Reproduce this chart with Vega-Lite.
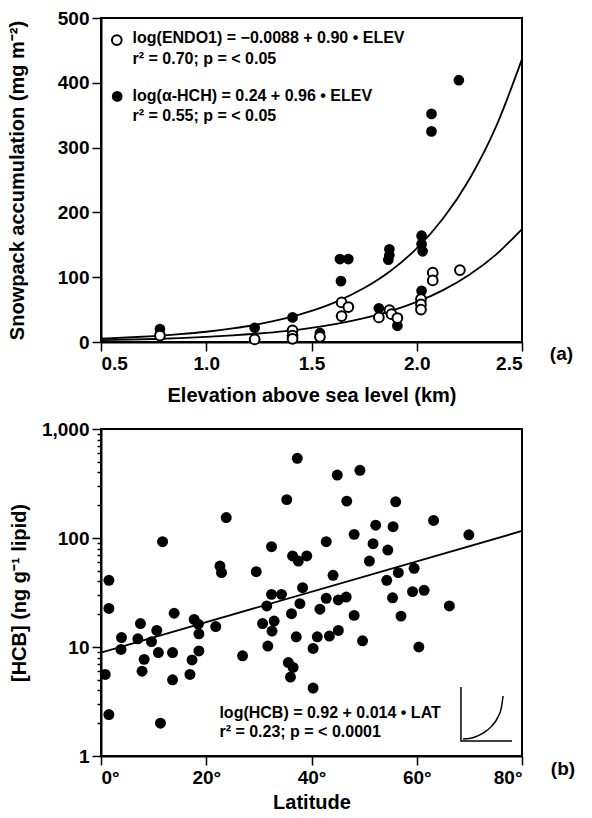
{
  "$schema": "https://vega.github.io/schema/vega-lite/v6.json",
  "padding": {"left": 6, "top": 8, "right": 2, "bottom": 0},
  "spacing": 13,
  "config": {
    "font": "Liberation Sans",
    "view": {"stroke": "black", "strokeWidth": 2},
    "axis": {
      "domainColor": "black", "domainWidth": 2,
      "tickColor": "black", "tickWidth": 1.5, "tickSize": 9,
      "labelFontSize": 19, "labelFontWeight": "bold", "labelColor": "black", "labelPadding": 3,
      "titleFontSize": 20, "titleFontWeight": "bold", "titleColor": "black",
      "grid": false
    },
    "title": {"fontSize": 19, "fontWeight": "bold", "color": "black"}
  },
  "datasets": {
    "a_pts": [
      {"x": 0.78, "y": 20, "g": "HCH"}, {"x": 1.23, "y": 22, "g": "HCH"}, {"x": 1.41, "y": 38, "g": "HCH"},
      {"x": 1.54, "y": 14, "g": "HCH"}, {"x": 1.635, "y": 128, "g": "HCH"}, {"x": 1.675, "y": 128, "g": "HCH"},
      {"x": 1.64, "y": 94, "g": "HCH"}, {"x": 1.82, "y": 52, "g": "HCH"}, {"x": 1.87, "y": 143, "g": "HCH"},
      {"x": 1.87, "y": 134, "g": "HCH"}, {"x": 1.865, "y": 127, "g": "HCH"}, {"x": 1.908, "y": 25, "g": "HCH"},
      {"x": 2.023, "y": 164, "g": "HCH"}, {"x": 2.023, "y": 151, "g": "HCH"}, {"x": 2.028, "y": 140, "g": "HCH"},
      {"x": 2.023, "y": 79, "g": "HCH"}, {"x": 2.07, "y": 352, "g": "HCH"}, {"x": 2.07, "y": 325, "g": "HCH"},
      {"x": 2.2, "y": 404, "g": "HCH"},
      {"x": 0.78, "y": 10, "g": "ENDO"}, {"x": 1.23, "y": 4, "g": "ENDO"}, {"x": 1.41, "y": 18, "g": "ENDO"},
      {"x": 1.41, "y": 10, "g": "ENDO"}, {"x": 1.41, "y": 5, "g": "ENDO"}, {"x": 1.54, "y": 8, "g": "ENDO"},
      {"x": 1.643, "y": 61, "g": "ENDO"}, {"x": 1.675, "y": 54, "g": "ENDO"}, {"x": 1.643, "y": 40, "g": "ENDO"},
      {"x": 1.82, "y": 38, "g": "ENDO"}, {"x": 1.87, "y": 49, "g": "ENDO"}, {"x": 1.88, "y": 43, "g": "ENDO"},
      {"x": 1.908, "y": 37, "g": "ENDO"}, {"x": 2.02, "y": 66, "g": "ENDO"}, {"x": 2.02, "y": 58, "g": "ENDO"},
      {"x": 2.02, "y": 50, "g": "ENDO"}, {"x": 2.076, "y": 107, "g": "ENDO"}, {"x": 2.076, "y": 95, "g": "ENDO"},
      {"x": 2.205, "y": 111, "g": "ENDO"}
    ],
    "a_fit": [
      {"x": 0.5, "y": 5.25, "g": "HCH"}, {"x": 0.625, "y": 6.92, "g": "HCH"}, {"x": 0.75, "y": 9.12, "g": "HCH"},
      {"x": 0.875, "y": 12.0, "g": "HCH"}, {"x": 1.0, "y": 15.8, "g": "HCH"}, {"x": 1.125, "y": 20.9, "g": "HCH"},
      {"x": 1.25, "y": 27.5, "g": "HCH"}, {"x": 1.375, "y": 36.3, "g": "HCH"}, {"x": 1.5, "y": 47.9, "g": "HCH"},
      {"x": 1.625, "y": 63.1, "g": "HCH"}, {"x": 1.75, "y": 83.2, "g": "HCH"}, {"x": 1.875, "y": 109.6, "g": "HCH"},
      {"x": 2.0, "y": 144.5, "g": "HCH"}, {"x": 2.125, "y": 190.5, "g": "HCH"}, {"x": 2.25, "y": 251.2, "g": "HCH"},
      {"x": 2.375, "y": 331.1, "g": "HCH"}, {"x": 2.5, "y": 436.5, "g": "HCH"},
      {"x": 0.5, "y": 2.76, "g": "ENDO"}, {"x": 0.625, "y": 3.58, "g": "ENDO"}, {"x": 0.75, "y": 4.64, "g": "ENDO"},
      {"x": 0.875, "y": 6.01, "g": "ENDO"}, {"x": 1.0, "y": 7.78, "g": "ENDO"}, {"x": 1.125, "y": 10.1, "g": "ENDO"},
      {"x": 1.25, "y": 13.1, "g": "ENDO"}, {"x": 1.375, "y": 16.9, "g": "ENDO"}, {"x": 1.5, "y": 21.9, "g": "ENDO"},
      {"x": 1.625, "y": 28.4, "g": "ENDO"}, {"x": 1.75, "y": 36.8, "g": "ENDO"}, {"x": 1.875, "y": 47.7, "g": "ENDO"},
      {"x": 2.0, "y": 61.8, "g": "ENDO"}, {"x": 2.125, "y": 80.1, "g": "ENDO"}, {"x": 2.25, "y": 103.8, "g": "ENDO"},
      {"x": 2.375, "y": 134.5, "g": "ENDO"}, {"x": 2.5, "y": 174.3, "g": "ENDO"}
    ],
    "a_key": [
      {"x": 0.575, "y": 466, "g": "ENDO"}, {"x": 0.577, "y": 379, "g": "HCH"}
    ],
    "a_txt": [
      {"x": 0.65, "y": 469, "t": "log(ENDO1) = −0.0088 + 0.90 • ELEV"},
      {"x": 0.65, "y": 436, "t": "r² = 0.70; p = < 0.05"},
      {"x": 0.65, "y": 380, "t": "log(α-HCH) = 0.24 + 0.96 • ELEV"},
      {"x": 0.65, "y": 349, "t": "r² = 0.55; p = < 0.05"}
    ],
    "b_pts": [
      {"lat": 0.8, "v": 5.6}, {"lat": 1.5, "v": 2.4}, {"lat": 1.5, "v": 22.6}, {"lat": 1.5, "v": 40.9},
      {"lat": 3.8, "v": 9.5}, {"lat": 3.9, "v": 12.2}, {"lat": 7.0, "v": 11.9}, {"lat": 7.5, "v": 16.4},
      {"lat": 7.8, "v": 6.0}, {"lat": 8.2, "v": 7.7}, {"lat": 9.6, "v": 11.2}, {"lat": 10.6, "v": 14.2},
      {"lat": 10.9, "v": 8.9}, {"lat": 11.3, "v": 2.0}, {"lat": 11.7, "v": 92.5}, {"lat": 13.6, "v": 8.9},
      {"lat": 13.6, "v": 5.0}, {"lat": 13.9, "v": 20.4}, {"lat": 16.9, "v": 5.6}, {"lat": 17.3, "v": 7.6},
      {"lat": 17.7, "v": 17.9}, {"lat": 18.5, "v": 16.2}, {"lat": 18.6, "v": 13.2}, {"lat": 18.6, "v": 9.2},
      {"lat": 21.8, "v": 15.4}, {"lat": 22.6, "v": 55.3}, {"lat": 22.9, "v": 48.1}, {"lat": 23.8, "v": 154},
      {"lat": 26.9, "v": 8.3}, {"lat": 29.5, "v": 49.1}, {"lat": 30.7, "v": 16.4}, {"lat": 31.5, "v": 23.8},
      {"lat": 31.7, "v": 10.2}, {"lat": 32.4, "v": 83.2}, {"lat": 32.4, "v": 30.4}, {"lat": 32.5, "v": 14.0},
      {"lat": 32.9, "v": 17.3}, {"lat": 34.3, "v": 30.4}, {"lat": 35.3, "v": 225}, {"lat": 35.6, "v": 7.2},
      {"lat": 36.0, "v": 5.3}, {"lat": 36.2, "v": 20.2}, {"lat": 36.4, "v": 68.4}, {"lat": 36.5, "v": 6.5},
      {"lat": 37.1, "v": 12.4}, {"lat": 37.3, "v": 538}, {"lat": 37.5, "v": 61.5}, {"lat": 37.8, "v": 25},
      {"lat": 38.3, "v": 35}, {"lat": 39.1, "v": 68.4}, {"lat": 40.3, "v": 9.7}, {"lat": 40.3, "v": 4.2},
      {"lat": 41.1, "v": 12.4}, {"lat": 41.6, "v": 22.2}, {"lat": 42.8, "v": 92.5}, {"lat": 42.8, "v": 28},
      {"lat": 43.4, "v": 12.6}, {"lat": 44.1, "v": 45.5}, {"lat": 44.9, "v": 378}, {"lat": 45.1, "v": 27},
      {"lat": 45.1, "v": 14.2}, {"lat": 46.6, "v": 28.7}, {"lat": 46.7, "v": 218}, {"lat": 48.1, "v": 108},
      {"lat": 48.1, "v": 19.5}, {"lat": 49.2, "v": 418}, {"lat": 49.7, "v": 11.4}, {"lat": 51.0, "v": 61.5},
      {"lat": 51.7, "v": 88.7}, {"lat": 52.2, "v": 131}, {"lat": 54.3, "v": 40.9}, {"lat": 54.5, "v": 77.6},
      {"lat": 55.4, "v": 28.3}, {"lat": 55.5, "v": 127}, {"lat": 56.0, "v": 215}, {"lat": 56.5, "v": 48.1},
      {"lat": 57.0, "v": 19.2}, {"lat": 59.2, "v": 32.2}, {"lat": 59.5, "v": 52.7}, {"lat": 60.4, "v": 10},
      {"lat": 61.4, "v": 33.1}, {"lat": 63.2, "v": 145}, {"lat": 66.2, "v": 23.8}, {"lat": 69.9, "v": 107}
    ],
    "b_fit": [{"lat": 0, "v": 8.9}, {"lat": 80, "v": 116}],
    "b_icon": [
      {"lat": 68.4, "v": 4.3, "s": "axis", "o": 1}, {"lat": 68.4, "v": 1.37, "s": "axis", "o": 2},
      {"lat": 78.1, "v": 1.37, "s": "axis", "o": 3},
      {"lat": 68.8, "v": 1.43, "s": "curve", "o": 1}, {"lat": 70.8, "v": 1.48, "s": "curve", "o": 2},
      {"lat": 72.6, "v": 1.62, "s": "curve", "o": 3}, {"lat": 74.2, "v": 1.87, "s": "curve", "o": 4},
      {"lat": 75.4, "v": 2.26, "s": "curve", "o": 5}, {"lat": 76.1, "v": 2.81, "s": "curve", "o": 6},
      {"lat": 76.4, "v": 3.55, "s": "curve", "o": 7}
    ],
    "b_txt": [
      {"lat": 22.5, "v": 2.5, "t": "log(HCB) = 0.92 + 0.014 • LAT"},
      {"lat": 22.5, "v": 1.67, "t": "r² = 0.23; p = < 0.0001"}
    ]
  },
  "vconcat": [
    {
      "width": 421,
      "height": 324,
      "title": {"text": "(a)", "orient": "right", "anchor": "end", "angle": 0, "align": "left", "baseline": "middle", "offset": 1, "dy": 12, "frame": "group"},
      "layer": [
        {
          "data": {"name": "a_fit"},
          "mark": {"type": "line", "color": "black", "strokeWidth": 1.8, "interpolate": "monotone"},
          "encoding": {
            "x": {"field": "x", "type": "quantitative", "scale": {"domain": [0.5, 2.5], "nice": false},
                  "axis": {"title": "Elevation above sea level (km)", "values": [0.5, 1, 1.5, 2, 2.5], "format": ".1f", "titlePadding": 12}},
            "y": {"field": "y", "type": "quantitative", "scale": {"domain": [0, 500], "nice": false},
                  "axis": {"title": "Snowpack accumulation (mg m⁻²)", "values": [0, 100, 200, 300, 400, 500], "titlePadding": 30}},
            "detail": {"field": "g"}
          }
        },
        {
          "data": {"name": "a_pts"},
          "transform": [{"filter": "datum.g == 'HCH'"}],
          "mark": {"type": "point", "shape": "circle", "filled": true, "color": "black", "size": 115, "opacity": 1},
          "encoding": {"x": {"field": "x", "type": "quantitative"}, "y": {"field": "y", "type": "quantitative"}}
        },
        {
          "data": {"name": "a_pts"},
          "transform": [{"filter": "datum.g == 'ENDO'"}],
          "mark": {"type": "point", "shape": "circle", "fill": "white", "stroke": "black", "strokeWidth": 2, "size": 95, "opacity": 1},
          "encoding": {"x": {"field": "x", "type": "quantitative"}, "y": {"field": "y", "type": "quantitative"}}
        },
        {
          "data": {"name": "a_key"},
          "transform": [{"filter": "datum.g == 'HCH'"}],
          "mark": {"type": "point", "shape": "circle", "filled": true, "color": "black", "size": 115, "opacity": 1},
          "encoding": {"x": {"field": "x", "type": "quantitative"}, "y": {"field": "y", "type": "quantitative"}}
        },
        {
          "data": {"name": "a_key"},
          "transform": [{"filter": "datum.g == 'ENDO'"}],
          "mark": {"type": "point", "shape": "circle", "fill": "white", "stroke": "black", "strokeWidth": 2, "size": 95, "opacity": 1},
          "encoding": {"x": {"field": "x", "type": "quantitative"}, "y": {"field": "y", "type": "quantitative"}}
        },
        {
          "data": {"name": "a_txt"},
          "mark": {"type": "text", "align": "left", "baseline": "middle", "fontSize": 16, "fontWeight": "bold", "color": "black"},
          "encoding": {"x": {"field": "x", "type": "quantitative"}, "y": {"field": "y", "type": "quantitative"}, "text": {"field": "t"}}
        }
      ]
    },
    {
      "width": 421,
      "height": 327,
      "title": {"text": "(b)", "orient": "right", "anchor": "end", "angle": 0, "align": "left", "baseline": "middle", "offset": 1, "dy": 13, "frame": "group"},
      "layer": [
        {
          "data": {"name": "b_fit"},
          "mark": {"type": "line", "color": "black", "strokeWidth": 1.8},
          "encoding": {
            "x": {"field": "lat", "type": "quantitative", "scale": {"domain": [0, 80], "nice": false},
                  "axis": {"title": "Latitude", "values": [0, 20, 40, 60, 80], "labelExpr": "datum.value + '°'", "titlePadding": 5}},
            "y": {"field": "v", "type": "quantitative", "scale": {"type": "log", "domain": [1, 1000], "nice": false},
                  "axis": {"title": "[HCB] (ng g⁻¹ lipid)", "titlePadding": 12,
                           "values": [1, 2, 3, 4, 5, 6, 7, 8, 9, 10, 20, 30, 40, 50, 60, 70, 80, 90, 100, 200, 300, 400, 500, 600, 700, 800, 900, 1000],
                           "labelExpr": "indexof([1, 10, 100, 1000], datum.value) >= 0 ? format(datum.value, ',') : ''",
                           "tickSize": {"condition": {"test": "indexof([1, 10, 100, 1000], datum.value) >= 0", "value": 9}, "value": 4}}}
          }
        },
        {
          "data": {"name": "b_pts"},
          "mark": {"type": "point", "shape": "circle", "filled": true, "color": "black", "size": 120, "opacity": 1},
          "encoding": {"x": {"field": "lat", "type": "quantitative"}, "y": {"field": "v", "type": "quantitative"}}
        },
        {
          "data": {"name": "b_icon"},
          "mark": {"type": "line", "color": "black", "strokeWidth": 1.5, "interpolate": "monotone"},
          "encoding": {"x": {"field": "lat", "type": "quantitative"}, "y": {"field": "v", "type": "quantitative"}, "detail": {"field": "s"}, "order": {"field": "o"}}
        },
        {
          "data": {"name": "b_txt"},
          "mark": {"type": "text", "align": "left", "baseline": "middle", "fontSize": 16, "fontWeight": "bold", "color": "black"},
          "encoding": {"x": {"field": "lat", "type": "quantitative"}, "y": {"field": "v", "type": "quantitative"}, "text": {"field": "t"}}
        }
      ]
    }
  ]
}
